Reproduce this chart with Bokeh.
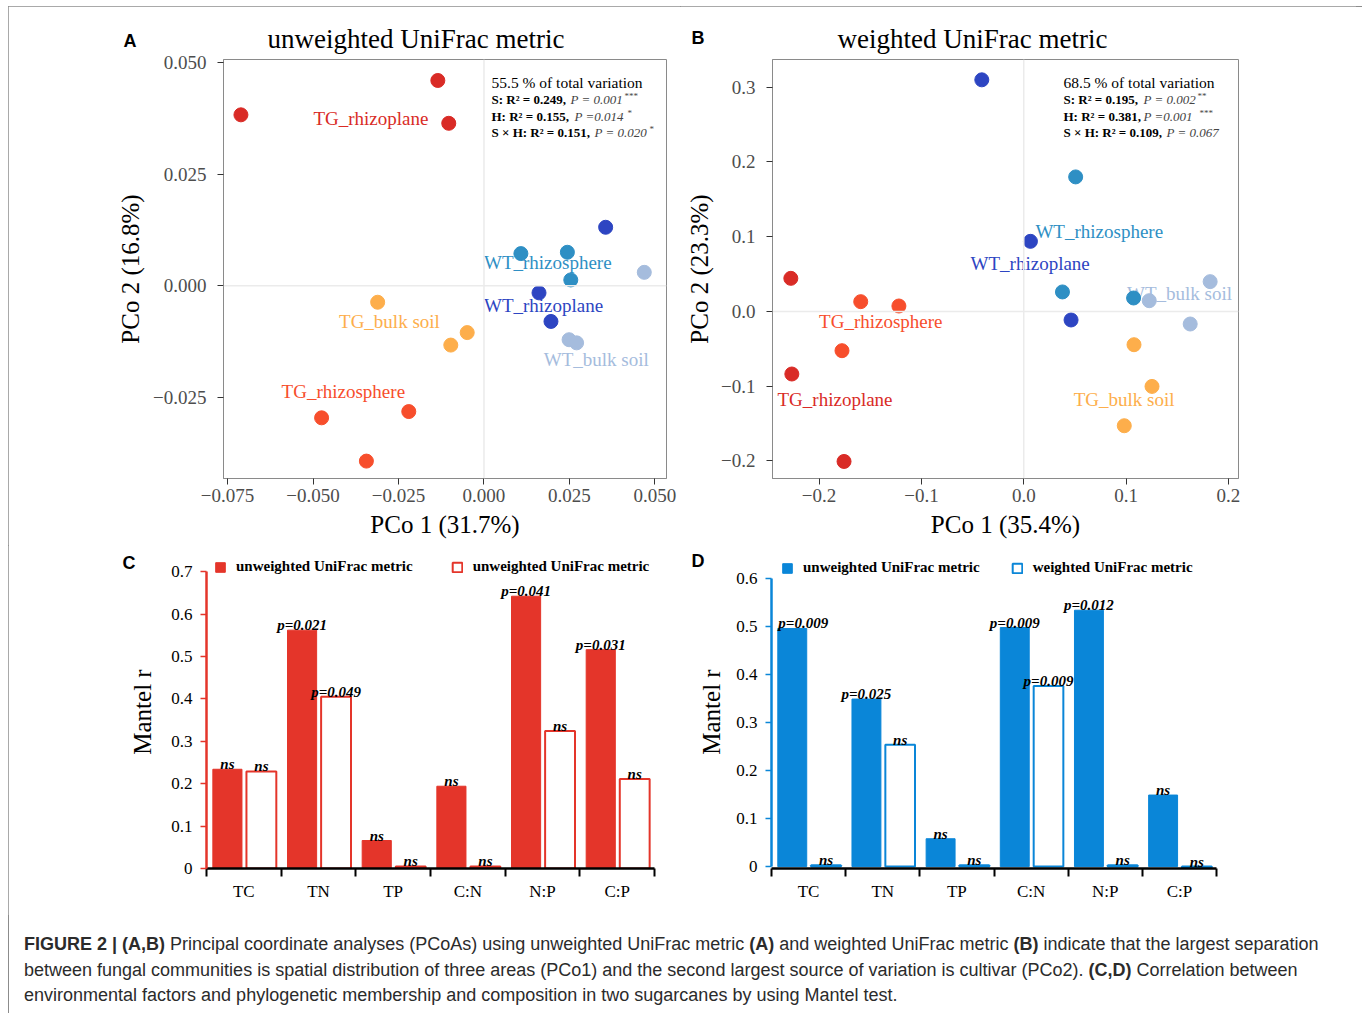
import math
from bokeh.plotting import figure
from bokeh.models import Label, Span, FixedTicker, Legend, LegendItem, Div, Range1d, Spacer
from bokeh.layouts import column, row
from bokeh.embed import file_html
from bokeh.resources import INLINE
from bokeh.core.properties import value

SERIF = "Liberation Serif"
SANS = "Liberation Sans"
M = "\u2212"

# ---------------- data: panel A (unweighted UniFrac PCoA) ----------------
group_names = ["TG_rhizoplane", "TG_rhizosphere", "TG_bulk soil",
               "WT_rhizosphere", "WT_rhizoplane", "WT_bulk soil"]
group_colors = ["#D92B26", "#F74E2C", "#FDAE4B", "#2E8FC4", "#2D45C2", "#A5BCDD"]

a_tg_rhizoplane_x = [-0.0711, -0.0135, -0.0103]
a_tg_rhizoplane_y = [0.0383, 0.0460, 0.0364]
a_tg_rhizosphere_x = [-0.0475, -0.0220, -0.0344]
a_tg_rhizosphere_y = [-0.0296, -0.0282, -0.0393]
a_tg_bulk_x = [-0.0311, -0.0049, -0.0097]
a_tg_bulk_y = [-0.0037, -0.0105, -0.0133]
a_wt_rhizosphere_x = [0.0108, 0.0244, 0.0254]
a_wt_rhizosphere_y = [0.0072, 0.0075, 0.0013]
a_wt_rhizoplane_x = [0.0356, 0.0161, 0.0196]
a_wt_rhizoplane_y = [0.0131, -0.0016, -0.0080]
a_wt_bulk_x = [0.0469, 0.0249, 0.0271]
a_wt_bulk_y = [0.0030, -0.0121, -0.0128]

# ---------------- data: panel B (weighted UniFrac PCoA) ----------------
b_tg_rhizoplane_x = [-0.2276, -0.2266, -0.1756]
b_tg_rhizoplane_y = [0.0442, -0.0838, -0.2008]
b_tg_rhizosphere_x = [-0.1593, -0.1220, -0.1776]
b_tg_rhizosphere_y = [0.0130, 0.0072, -0.0526]
b_tg_bulk_x = [0.1077, 0.1253, 0.0982]
b_tg_bulk_y = [-0.0446, -0.1004, -0.1530]
b_wt_rhizosphere_x = [0.0507, 0.0378, 0.1073]
b_wt_rhizosphere_y = [0.1799, 0.0260, 0.0179]
b_wt_rhizoplane_x = [-0.0410, 0.0065, 0.0462]
b_wt_rhizoplane_y = [0.3098, 0.0937, -0.0115]
b_wt_bulk_x = [0.1821, 0.1226, 0.1626]
b_wt_bulk_y = [0.0398, 0.0143, -0.0169]

a_xticks = [-0.075, -0.05, -0.025, 0, 0.025, 0.05]
a_xlabels = [M + "0.075", M + "0.050", M + "0.025", "0.000", "0.025", "0.050"]
a_yticks = [-0.025, 0, 0.025, 0.05]
a_ylabels = [M + "0.025", "0.000", "0.025", "0.050"]
b_xticks = [-0.2, -0.1, 0, 0.1, 0.2]
b_xlabels = [M + "0.2", M + "0.1", "0.0", "0.1", "0.2"]
b_yticks = [-0.2, -0.1, 0, 0.1, 0.2, 0.3]
b_ylabels = [M + "0.2", M + "0.1", "0.0", "0.1", "0.2", "0.3"]

# ---------------- data: panels C, D (Mantel r) ----------------
categories = ["TC", "TN", "TP", "C:N", "N:P", "C:P"]
c_unweighted = [0.234, 0.562, 0.066, 0.194, 0.642, 0.516]
c_second = [0.229, 0.405, 0.005, 0.005, 0.324, 0.211]
c_unweighted_sig = ["ns", "p=0.021", "ns", "ns", "p=0.041", "p=0.031"]
c_second_sig = ["ns", "p=0.049", "ns", "ns", "ns", "ns"]
d_unweighted = [0.496, 0.349, 0.058, 0.498, 0.534, 0.149]
d_weighted = [0.003, 0.254, 0.003, 0.376, 0.003, -0.002]
d_unweighted_sig = ["p=0.009", "p=0.025", "ns", "p=0.009", "p=0.012", "ns"]
d_weighted_sig = ["ns", "ns", "ns", "p=0.009", "ns", "ns"]
c_yticks = [0, 0.1, 0.2, 0.3, 0.4, 0.5, 0.6, 0.7]
c_ylabels = ["0", "0.1", "0.2", "0.3", "0.4", "0.5", "0.6", "0.7"]
d_yticks = [0, 0.1, 0.2, 0.3, 0.4, 0.5, 0.6]
d_ylabels = ["0", "0.1", "0.2", "0.3", "0.4", "0.5", "0.6"]

RED = "#E4352A"
BLUE = "#0A86D8"


def put(p, fl, fb, px, py, text, size, font=SERIF, style="normal", color="black",
        align="left", baseline="middle"):
    p.add_layout(Label(x=px - fl, y=fb - py, x_units="screen", y_units="screen",
                       text=text, text_font=font, text_font_size=f"{size}px",
                       text_font_style=style, text_color=color, text_align=align,
                       text_baseline=baseline))


def style_title(p, offset, standoff):
    p.title.text_font = SERIF
    p.title.text_font_size = "27px"
    p.title.text_font_style = "normal"
    p.title.text_color = "black"
    p.title.align = "left"
    p.title.offset = offset
    p.title.standoff = standoff


def style_axis_label(ax, standoff):
    ax.axis_label_text_font = SERIF
    ax.axis_label_text_font_size = "25px"
    ax.axis_label_text_font_style = "normal"
    ax.axis_label_text_color = "black"
    ax.axis_label_standoff = standoff


def style_pcoa(p, xt, xl, yt, yl, xlab, ylab, ylab_standoff):
    p.xgrid.visible = False
    p.ygrid.visible = False
    p.outline_line_color = "#8a8a8a"
    p.outline_line_width = 1
    for ax in (p.xaxis[0], p.yaxis[0]):
        ax.axis_line_color = "#8a8a8a"
        ax.major_tick_line_color = "#333333"
        ax.major_tick_out = 6
        ax.major_tick_in = 0
        ax.minor_tick_line_color = None
        ax.major_label_text_font = SERIF
        ax.major_label_text_font_size = "19px"
        ax.major_label_text_color = "#4d4d4d"
    p.xaxis[0].ticker = FixedTicker(ticks=xt)
    p.xaxis[0].major_label_overrides = dict(zip(xt, xl))
    p.yaxis[0].ticker = FixedTicker(ticks=yt)
    p.yaxis[0].major_label_overrides = dict(zip(yt, yl))
    p.xaxis[0].major_label_standoff = 4
    p.yaxis[0].major_label_standoff = 11
    p.xaxis[0].axis_label = xlab
    p.yaxis[0].axis_label = ylab
    style_axis_label(p.xaxis[0], 6)
    style_axis_label(p.yaxis[0], ylab_standoff)
    p.add_layout(Span(location=0, dimension="width", line_color="#ebebeb", line_width=1.5))
    p.add_layout(Span(location=0, dimension="height", line_color="#ebebeb", line_width=1.5))


def pcoa_points(p, xs_list, ys_list, label_pos):
    for name, col, (lx, ly) in zip(group_names, group_colors, label_pos):
        p.text(x=[lx], y=[ly], text=[name], text_color=col, text_font=value(SERIF),
               text_font_size="19px", text_baseline="middle", text_align="left")
    for col, xs, ys in zip(group_colors, xs_list, ys_list):
        p.scatter(xs, ys, size=14, fill_color=col, line_color=col)


common = dict(output_backend="svg", toolbar_location=None,
              background_fill_color="white", border_fill_color="white")

# ---------------- Panel A ----------------
pA = figure(width=672, height=539, x_range=Range1d(-0.0762, 0.0534),
            y_range=Range1d(-0.0432, 0.0507), min_border_left=215, min_border_right=14,
            min_border_top=53, min_border_bottom=67, title="unweighted UniFrac metric", **common)
style_title(pA, 44, 12)
style_pcoa(pA, a_xticks, a_xlabels, a_yticks, a_ylabels, "PCo 1 (31.7%)", "PCo 2 (16.8%)", 6)
a_label_pos = [(-0.0499, 0.0374), (-0.0592, -0.0236), (-0.0424, -0.0080),
               (0.0, 0.0051), (0.0, -0.0045), (0.0175, -0.0166)]
pcoa_points(pA,
            [a_tg_rhizoplane_x, a_tg_rhizosphere_x, a_tg_bulk_x, a_wt_rhizosphere_x, a_wt_rhizoplane_x, a_wt_bulk_x],
            [a_tg_rhizoplane_y, a_tg_rhizosphere_y, a_tg_bulk_y, a_wt_rhizosphere_y, a_wt_rhizoplane_y, a_wt_bulk_y],
            a_label_pos)
fl, fb = 223, 478
put(pA, fl, fb, 491, 82, "55.5 % of total variation", 15.5)
put(pA, fl, fb, 491, 99, "S: R\u00b2 = 0.249,", 13, style="bold")
put(pA, fl, fb, 570, 99, "P = 0.001", 13, style="italic", color="#444444")
put(pA, fl, fb, 624, 95, "***", 9, color="#444444")
put(pA, fl, fb, 491, 116, "H: R\u00b2 = 0.155,", 13, style="bold")
put(pA, fl, fb, 574, 116, "P  =0.014", 13, style="italic", color="#444444")
put(pA, fl, fb, 627, 112, "*", 9, color="#444444")
put(pA, fl, fb, 491, 132, "S \u00d7 H: R\u00b2 = 0.151,", 13, style="bold")
put(pA, fl, fb, 594, 132, "P = 0.020", 13, style="italic", color="#444444")
put(pA, fl, fb, 649, 128, "*", 9, color="#444444")

# ---------------- Panel B ----------------
pB = figure(width=676, height=539, x_range=Range1d(-0.2455, 0.2098),
            y_range=Range1d(-0.2236, 0.337), min_border_left=92, min_border_right=118,
            min_border_top=53, min_border_bottom=67, title="weighted UniFrac metric", **common)
style_title(pB, 65, 12)
style_pcoa(pB, b_xticks, b_xlabels, b_yticks, b_ylabels, "PCo 1 (35.4%)", "PCo 2 (23.3%)", 5)
b_label_pos = [(-0.2406, -0.1173), (-0.2000, -0.0134), (0.0488, -0.1173),
               (0.0114, 0.1071), (-0.0520, 0.0643), (0.1009, 0.0233)]
pcoa_points(pB,
            [b_tg_rhizoplane_x, b_tg_rhizosphere_x, b_tg_bulk_x, b_wt_rhizosphere_x, b_wt_rhizoplane_x, b_wt_bulk_x],
            [b_tg_rhizoplane_y, b_tg_rhizosphere_y, b_tg_bulk_y, b_wt_rhizosphere_y, b_wt_rhizoplane_y, b_wt_bulk_y],
            b_label_pos)
fl, fb = 772, 478
put(pB, fl, fb, 1063, 82, "68.5 % of total variation", 15.5)
put(pB, fl, fb, 1063, 99, "S: R\u00b2 = 0.195,", 13, style="bold")
put(pB, fl, fb, 1143, 99, "P = 0.002", 13, style="italic", color="#444444")
put(pB, fl, fb, 1197, 95, "**", 9, color="#444444")
put(pB, fl, fb, 1063, 116, "H: R\u00b2 = 0.381,", 13, style="bold")
put(pB, fl, fb, 1143, 116, "P  =0.001", 13, style="italic", color="#444444")
put(pB, fl, fb, 1199, 112, "***", 9, color="#444444")
put(pB, fl, fb, 1063, 132, "S \u00d7 H: R\u00b2 = 0.109,", 13, style="bold")
put(pB, fl, fb, 1166, 132, "P = 0.067", 13, style="italic", color="#444444")


# ---------------- Panels C, D ----------------
def bar_panel(p, col, filled, second, fsig, ssig, fsig_dx, yt, yl, ybound, lab2,
              legend_loc, spacing, ylab_standoff):
    p.xgrid.visible = False
    p.ygrid.visible = False
    p.outline_line_color = None
    xf = [i + 0.28 for i in range(len(categories))]
    xo = [i + 0.735 for i in range(len(categories))]
    rf = p.vbar(x=xf, top=filled, width=0.39, bottom=0, fill_color=col, line_color=col)
    ro = p.vbar(x=xo, top=second, width=0.40, bottom=0, fill_color="white",
                line_color=col, line_width=2)
    p.text(x=xf, y=[max(v, 0) for v in filled], text=fsig, text_font=value(SERIF),
           text_font_style="bold italic", text_font_size="15px", text_align="center",
           text_baseline="alphabetic", x_offset=fsig_dx, y_offset=-5, text_color="black")
    p.text(x=xo, y=[max(v, 0) for v in second], text=ssig, text_font=value(SERIF),
           text_font_style="bold italic", text_font_size="15px", text_align="center",
           text_baseline="alphabetic", y_offset=-5, text_color="black")
    ya = p.yaxis[0]
    ya.ticker = FixedTicker(ticks=yt)
    ya.major_label_overrides = dict(zip(yt, yl))
    ya.bounds = ybound
    ya.axis_line_color = col
    ya.axis_line_width = 2.5
    ya.major_tick_line_color = col
    ya.major_tick_line_width = 1.5
    ya.major_tick_out = 6
    ya.major_tick_in = 0
    ya.minor_tick_line_color = None
    ya.major_label_text_font = SERIF
    ya.major_label_text_font_size = "17px"
    ya.major_label_text_color = "black"
    ya.major_label_standoff = 8
    ya.axis_label = "Mantel r"
    style_axis_label(ya, ylab_standoff)
    xa = p.xaxis[0]
    centers = [i + 0.5 for i in range(len(categories))]
    xa.ticker = FixedTicker(ticks=centers, minor_ticks=list(range(len(categories) + 1)))
    xa.major_label_overrides = dict(zip(centers, categories))
    xa.axis_line_color = "black"
    xa.axis_line_width = 2.5
    xa.major_tick_line_color = None
    xa.major_tick_out = 8
    xa.major_tick_in = 0
    xa.minor_tick_line_color = "black"
    xa.minor_tick_line_width = 2
    xa.minor_tick_out = 8
    xa.minor_tick_in = 0
    xa.major_label_standoff = 5
    xa.major_label_text_font = SERIF
    xa.major_label_text_font_size = "17px"
    xa.major_label_text_color = "black"
    leg = Legend(items=[LegendItem(label="unweighted UniFrac metric", renderers=[rf]),
                        LegendItem(label=lab2, renderers=[ro])],
                 orientation="horizontal", location=legend_loc, glyph_width=12, glyph_height=12,
                 label_standoff=10, spacing=spacing, padding=0, margin=0,
                 border_line_alpha=0, background_fill_alpha=0, label_height=12,
                 label_text_font=SERIF, label_text_font_style="bold",
                 label_text_font_size="15px", label_text_color="black")
    p.add_layout(leg)


pC = figure(width=672, height=370, x_range=Range1d(0, 6), y_range=Range1d(0, 0.738),
            min_border_left=198, min_border_right=26, min_border_top=8, min_border_bottom=47,
            **common)
bar_panel(pC, RED, c_unweighted, c_second, c_unweighted_sig, c_second_sig, 0,
          c_yticks, c_ylabels, (0, 0.7), "unweighted UniFrac metric", (8, 293), 38, 12)

pD = figure(width=676, height=370, x_range=Range1d(0, 6), y_range=Range1d(-0.004, 0.648),
            min_border_left=91, min_border_right=140, min_border_top=10, min_border_bottom=46,
            **common)
bar_panel(pD, BLUE, d_unweighted, d_weighted, d_unweighted_sig, d_weighted_sig,
          [11, 0, 0, 0, 0, 0],
          d_yticks, d_ylabels, (0, 0.6), "weighted UniFrac metric", (10, 292), 31, 8)

# ---------------- caption + panel letters ----------------
# caption Div sits at page (8, 915); letters are placed relative to it
letters = [("A", 125, 36), ("B", 693, 33), ("C", 124, 558), ("D", 693, 556)]
letter_html = "".join(
    f'<span style="position:absolute;left:{x - 8}px;top:{y - 915}px;transform:translate(-50%,-50%);'
    f'font-family:\'Liberation Sans\';font-weight:bold;font-size:18px;color:black;line-height:1">{t}</span>'
    for t, x, y in letters)
caption_html = (
    '<div style="position:relative;height:0;width:0;z-index:10">' + letter_html + '</div>'
    '<div style="font-family:\'Liberation Sans\';font-size:18px;line-height:25.5px;'
    'padding:12px 0 0 11px;white-space:nowrap;color:#2b2b2b">'
    '<b>FIGURE 2 | (A,B)</b> Principal coordinate analyses (PCoAs) using unweighted UniFrac metric '
    '<b>(A)</b> and weighted UniFrac metric <b>(B)</b> indicate that the largest separation<br>'
    'between fungal communities is spatial distribution of three areas (PCo1) and the second largest '
    'source of variation is cultivar (PCo2). <b>(C,D)</b> Correlation between<br>'
    'environmental factors and phylogenetic membership and composition in two sugarcanes by using Mantel test.'
    '</div>')
cap = Div(text=caption_html, width=1348, height=96, styles={"overflow": "visible"})

inner = column(row(pA, pB), row(pC, pD), cap,
               styles={"outline": "1px solid #8c8c8c", "outline-offset": "-1px"})
layout = column(Spacer(height=6, width=1356), row(Spacer(width=8, height=10), inner))

open("out.html", "w").write(file_html(layout, INLINE))
